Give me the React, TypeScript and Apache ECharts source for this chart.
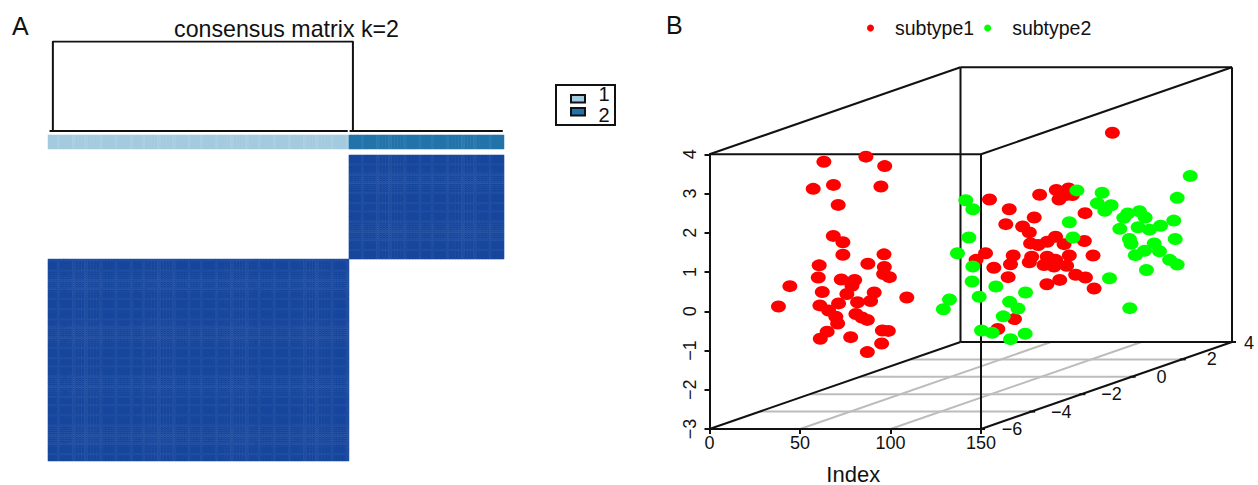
import React, { useEffect, useRef } from "react";
import * as echarts from "echarts";

const FONT = "Liberation Sans";
const sampleCount = 150;
const clusterSizes = [99, 51];
const stripeSamples = [3, 8, 12, 17, 22, 27, 31, 36, 41, 46, 50, 55, 60, 65, 69, 74, 79, 84, 88, 93, 98, 103, 108, 112, 117, 122, 126, 131, 136, 140, 145];
const dendroIndex = [1.6, 1.6, 100.3, 100.3];
const dendroHeight = [0, 1, 1, 0];
const leafRunA = [0.5, 98.6];
const leafRunB = [99.2, 149.6];
const legendKeys = ["1", "2"];
const subtypeNames = ["subtype1", "subtype2"];
const indexTicks = [0, 50, 100, 150];
const depthLabels = ["−6", "−4", "−2", "0", "2", "4"];

const subtype1: [number, number][] = [
  [63.2, 3.81], [86.4, 3.94], [96.8, 3.7], [57.3, 3.12], [68.5, 3.22], [94.7, 3.18], [71.1, 2.71], [68.4, 1.92], [73.7, 1.76], [73.7, 1.44],
  [96.4, 1.45], [87.5, 1.21], [60.6, 1.17], [96.6, 1.13], [60.1, 0.86], [96.2, 0.95], [99.4, 0.87], [72.8, 0.81], [80.2, 0.8], [78.7, 0.65],
  [62.3, 0.49], [91.0, 0.48], [75.9, 0.44], [109.0, 0.35], [44.4, 0.64], [38.1, 0.12], [61.0, 0.15], [71.3, 0.2], [81.8, 0.23], [89.0, 0.26],
  [65.8, 0.02], [69.8, -0.14], [80.9, -0.07], [84.2, -0.16], [87.2, -0.22], [70.8, -0.31], [95.5, -0.49], [98.8, -0.5], [65.0, -0.52], [61.2, -0.7],
  [78.0, -0.66], [95.1, -0.82], [87.2, -1.04],
  [222.6, 4.55], [154.7, 2.85], [165.6, 2.6], [163.7, 2.22], [182.4, 2.97], [191.6, 3.09], [198.4, 3.13], [200.5, 2.96], [193.1, 2.85], [193.1, 3.05], [196.8, 2.96],
  [179.4, 2.39], [207.5, 2.5], [173.0, 2.16], [176.7, 2.01], [177.4, 1.73], [181.6, 1.69], [186.6, 1.77], [191.2, 1.9], [195.9, 1.71], [207.1, 1.79],
  [152.5, 1.48], [147.3, 1.31], [167.8, 1.42], [166.3, 1.2], [157.1, 1.11], [176.7, 1.25], [178.0, 1.39], [186.6, 1.39], [191.2, 1.31], [198.8, 1.42],
  [211.9, 1.42], [184.8, 1.18], [190.3, 1.14], [197.3, 1.16], [187.5, 1.26], [165.0, 0.87], [186.4, 0.69], [193.5, 0.8], [202.3, 0.93], [207.7, 0.86],
  [212.5, 0.58], [168.5, -0.2], [159.3, -0.45],
];

const subtype2: [number, number][] = [
  [141.6, 2.83], [145.5, 2.6], [143.3, 1.88], [137.0, 1.48], [145.5, 1.14], [145.1, 0.76], [149.0, 0.37], [132.6, 0.3], [129.2, 0.05], [158.2, 0.63],
  [174.6, 0.48], [165.8, 0.24], [170.4, 0.07], [162.3, -0.13], [150.3, -0.49], [156.2, -0.55], [166.3, -0.71], [174.4, -0.57], [203.0, 3.08], [216.9, 3.02],
  [198.8, 2.27], [200.8, 1.88], [214.3, 2.75], [221.9, 2.7], [218.4, 2.56], [231.1, 2.49], [237.5, 2.55], [228.9, 2.38], [240.7, 2.39], [258.4, 2.89],
  [265.6, 3.45], [256.5, 2.31], [249.2, 2.18], [226.7, 2.1], [236.8, 2.14], [243.1, 2.08], [232.0, 1.84], [232.9, 1.72], [257.3, 1.84], [245.7, 1.73],
  [240.3, 1.54], [248.6, 1.53], [235.3, 1.43], [254.2, 1.31], [258.4, 1.19], [241.4, 1.05], [221.0, 0.84], [232.2, 0.08],
];

const clusterOf = (i: number) => (i < clusterSizes[0] ? 0 : 1);

function buildMatrix() {
  const out: number[][] = [];
  for (let x = 0; x < sampleCount; x++) {
    for (let y = 0; y < sampleCount; y++) {
      if (clusterOf(x) !== clusterOf(y)) continue;
      out.push([x, y, stripeSamples.includes(x) || stripeSamples.includes(y) ? 2 : 1]);
    }
  }
  return out;
}

function buildBar() {
  const out: number[][] = [];
  for (let x = 0; x < sampleCount; x++) {
    out.push([x, 0, (clusterOf(x) + 1) * 10 + (stripeSamples.includes(x) ? 1 : 0)]);
  }
  return out;
}

function buildGraphics() {
  const L = 709.5, R = 981, T = 154.3, B = 429, DX = 251, DY = -87;
  const els: any[] = [];
  const line = (x1: number, y1: number, x2: number, y2: number, stroke = "#111", lineWidth = 2) =>
    els.push({ type: "line", silent: true, shape: { x1, y1, x2, y2 }, style: { stroke, lineWidth } });
  const text = (x: number, y: number, t: string, fontSize: number, align = "center") =>
    els.push({
      type: "text", x, y, silent: true,
      style: { text: t, fontFamily: FONT, fontSize, fill: "#111", align, verticalAlign: "middle" },
    });

  // floor grid
  [0.2, 0.4, 0.6, 0.8].forEach((f) => line(L + DX * f, B + DY * f, R + DX * f, B + DY * f, "#bcbcbc", 2));
  [50, 100].forEach((v) => {
    const x = L + ((R - L) * v) / 150;
    line(x, B, x + DX, B + DY, "#bcbcbc", 2);
  });

  // wireframe
  line(L, T, R, T);
  line(R, T, R, B);
  line(L + DX, T + DY, R + DX, T + DY);
  line(L + DX, T + DY, L + DX, B + DY);
  line(R + DX, T + DY, R + DX, B + DY);
  line(L + DX, B + DY, R + DX, B + DY);
  line(L, T, L + DX, T + DY);
  line(R, T, R + DX, T + DY);
  line(L, B, L + DX, B + DY);
  line(R, B, R + DX, B + DY);

  // depth axis
  depthLabels.forEach((lab, i) => {
    const f = i / 5;
    const x = R + DX * f, y = B + DY * f;
    line(x - 2, y, x + 4, y, "#111", 2);
    text(x + (i === 0 ? 31 : i === 5 ? 17 : 30), y + (i === 5 ? 1 : 0), lab, 18);
  });

  // panel letters and titles
  text(12, 26, "A", 25, "left");
  text(666, 25, "B", 25, "left");
  text(286.5, 29, "consensus matrix k=2", 23.2);

  // panel A key
  els.push({ type: "rect", silent: true, shape: { x: 556, y: 85, width: 59, height: 40 }, style: { fill: "#fff", stroke: "#111", lineWidth: 2 } });
  legendKeys.forEach((k, i) => {
    const y = 95 + i * 13;
    els.push({
      type: "rect", silent: true,
      shape: { x: 571, y, width: 14, height: 7.5 },
      style: { fill: i === 0 ? "#a4cadf" : "#2273aa", stroke: "#111", lineWidth: 2 },
    });
    text(604, 94 + i * 21, k, 20);
  });
  return els;
}

export default function App() {
  const ref = useRef<HTMLDivElement>(null);
  useEffect(() => {
    const chart = echarts.init(ref.current!, undefined, { renderer: "svg" });
    const cats = Array.from({ length: sampleCount }, (_, i) => String(i));
    const scatterBase = { type: "scatter", xAxisIndex: 3, yAxisIndex: 3, clip: false, symbol: "circle", symbolSize: [15, 12] };
    chart.setOption({
      animation: false,
      backgroundColor: "#fff",
      textStyle: { fontFamily: FONT },
      grid: [
        { left: 48, top: 155, width: 456, height: 306, outerBoundsMode: "none" },
        { left: 48, top: 135, width: 456, height: 14, outerBoundsMode: "none" },
        { left: 48, top: 41.5, width: 456, height: 89.5, outerBoundsMode: "none" },
        { left: 709.5, top: 154.3, width: 271.5, height: 274.7, outerBoundsMode: "none" },
      ],
      xAxis: [
        { gridIndex: 0, type: "category", data: cats, show: false },
        { gridIndex: 1, type: "category", data: cats, show: false },
        { gridIndex: 2, type: "value", min: 0, max: sampleCount, show: false },
        {
          gridIndex: 3, type: "value", min: 0, max: 150, interval: 50,
          name: "Index", nameLocation: "middle", nameGap: 34,
          nameTextStyle: { fontFamily: FONT, fontSize: 22, color: "#111", padding: [0, 0, 0, 16] },
          axisLine: { show: true, onZero: false, lineStyle: { color: "#111", width: 2 } },
          axisTick: { show: true, length: 5, lineStyle: { color: "#111", width: 2 } },
          axisLabel: { fontFamily: FONT, fontSize: 18, color: "#111", margin: 5, customValues: indexTicks, showMinLabel: true, showMaxLabel: true },
          splitLine: { show: false },
        },
      ],
      yAxis: [
        { gridIndex: 0, type: "category", data: cats, show: false },
        { gridIndex: 1, type: "category", data: ["bar"], show: false },
        { gridIndex: 2, type: "value", min: 0, max: 1, show: false },
        {
          gridIndex: 3, type: "value", min: -3, max: 4, interval: 1,
          axisLine: { show: true, onZero: false, lineStyle: { color: "#111", width: 2 } },
          axisTick: { show: true, length: 5, lineStyle: { color: "#111", width: 2 } },
          axisLabel: {
            fontFamily: FONT, fontSize: 18, color: "#111", margin: 11, rotate: 90,
            formatter: (v: number) => String(v).replace("-", "−"),
          },
          splitLine: { show: false },
        },
      ],
      visualMap: [
        { type: "piecewise", show: false, seriesIndex: 0, dimension: 2, pieces: [{ value: 1, color: "#17469d" }, { value: 2, color: "#1f4da1" }] },
        {
          type: "piecewise", show: false, seriesIndex: 1, dimension: 2,
          pieces: [{ value: 10, color: "#a4cadf" }, { value: 11, color: "#aacee2" }, { value: 20, color: "#2273aa" }, { value: 21, color: "#2b7aaf" }],
        },
      ],
      legend: {
        data: subtypeNames, left: 867, top: 18, orient: "horizontal", padding: 0,
        itemWidth: 9, itemHeight: 7, itemGap: 10, icon: "circle",
        textStyle: { fontFamily: FONT, fontSize: 19.5, color: "#111", padding: [0, 0, 0, 15] },
      },
      graphic: { elements: buildGraphics() },
      series: [
        { type: "heatmap", xAxisIndex: 0, yAxisIndex: 0, data: buildMatrix(), progressive: 0, silent: true },
        { type: "heatmap", xAxisIndex: 1, yAxisIndex: 1, data: buildBar(), progressive: 0, silent: true },
        {
          type: "line", xAxisIndex: 2, yAxisIndex: 2, showSymbol: false, silent: true,
          data: dendroIndex.map((x, i) => [x, dendroHeight[i]]),
          lineStyle: { color: "#111", width: 2 },
        },
        { type: "line", xAxisIndex: 2, yAxisIndex: 2, showSymbol: false, silent: true, data: leafRunA.map((x) => [x, 0]), lineStyle: { color: "#111", width: 2 } },
        { type: "line", xAxisIndex: 2, yAxisIndex: 2, showSymbol: false, silent: true, data: leafRunB.map((x) => [x, 0]), lineStyle: { color: "#111", width: 2 } },
        { ...scatterBase, name: subtypeNames[0], data: subtype1, itemStyle: { color: "#ff0000", opacity: 1 } },
        { ...scatterBase, name: subtypeNames[1], data: subtype2, itemStyle: { color: "#00ff00", opacity: 1 } },
      ],
    });
    return () => chart.dispose();
  }, []);
  return <div ref={ref} style={{ position: "absolute", left: 0, top: 0, width: 1258, height: 485 }} />;
}
